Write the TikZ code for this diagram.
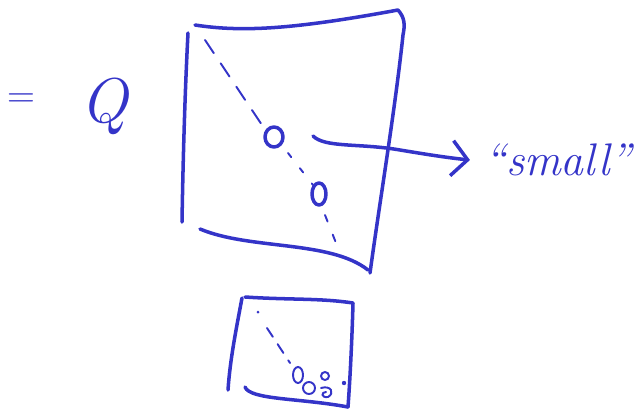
\documentclass[tikz,border=0pt]{standalone}
\usepackage{tikz}
\usetikzlibrary{arrows.meta,positioning,calc}
\definecolor{InkBlue}{HTML}{3434C8}

\begin{document}
\begin{tikzpicture}[x=0.02cm,y=-0.02cm,>=Latex,
    ink/.style={draw=InkBlue,line width=2pt,line cap=round,line join=round},
    thinink/.style={draw=InkBlue,line width=1.1pt,line cap=round},
    hand/.style={text=InkBlue,inner sep=0pt}]
  \useasboundingbox (0,0) rectangle (635,409);
  % left side of the equation
  \node[hand,font=\fontsize{22}{22}\selectfont] (eq) at (21,101) {=};
  \node[hand,font=\fontsize{36}{36}\selectfont\itshape] (q) at (104,106) {Q};
  % big matrix
  \draw[ink] (195,25) .. controls (240,32) and (290,30) .. (398,10)
        .. controls (405,18) and (405,25) .. (403,35)
        .. controls (395,110) and (380,200) .. (370,273);
  \draw[ink] (188,33) .. controls (185,90) and (183,160) .. (182,222);
  \draw[ink] (200,229) .. controls (250,250) and (330,240) .. (368,270);
  \draw[thinink,dash pattern=on 9pt off 7pt] (205,40) -- (262,125);
  \draw[thinink,dash pattern=on 3pt off 8pt] (288,153) -- (313,185);
  \draw[thinink,dash pattern=on 4pt off 8pt] (325,215) -- (338,248);
  \draw[ink] (274,137) ellipse[x radius=9,y radius=10];
  \draw[ink] (319,194) ellipse[x radius=7,y radius=11];
  % arrow to the label
  \coordinate (src) at (313,136);
  \node[hand,font=\fontsize{26}{26}\selectfont\itshape,anchor=west] (small) at (484,160) {``small''};
  \draw[ink,-{Straight Barb[length=9pt,width=20pt]}] (src)
        .. controls (325,148) and (360,143) .. (400,150)
        .. controls (430,155) and (450,158) .. ([xshift=-8]small.west);
  % small matrix
  \draw[ink] (245,297) .. controls (290,300) and (320,298) .. (353,303)
        .. controls (352,340) and (350,380) .. (348,407);
  \draw[ink] (242,298) .. controls (236,330) and (230,360) .. (228,390);
  \draw[ink] (245,387) .. controls (250,400) and (300,398) .. (348,407);
  \fill[InkBlue] (258,312) circle[radius=1.5];
  \draw[thinink,dash pattern=on 6pt off 5pt] (267,328) -- (290,363);
  \draw[thinink] (298,375) ellipse[x radius=5,y radius=8];
  \draw[thinink] (309,388) ellipse[x radius=6,y radius=6];
  \draw[thinink] (325,376) circle[radius=4];
  \draw[thinink] (321,388) .. controls (331,385) and (335,393) .. (328,397) .. controls (321,398) and (321,392) .. (326,392);
  \fill[InkBlue] (344,383) circle[radius=2.2];
\end{tikzpicture}
\end{document}
